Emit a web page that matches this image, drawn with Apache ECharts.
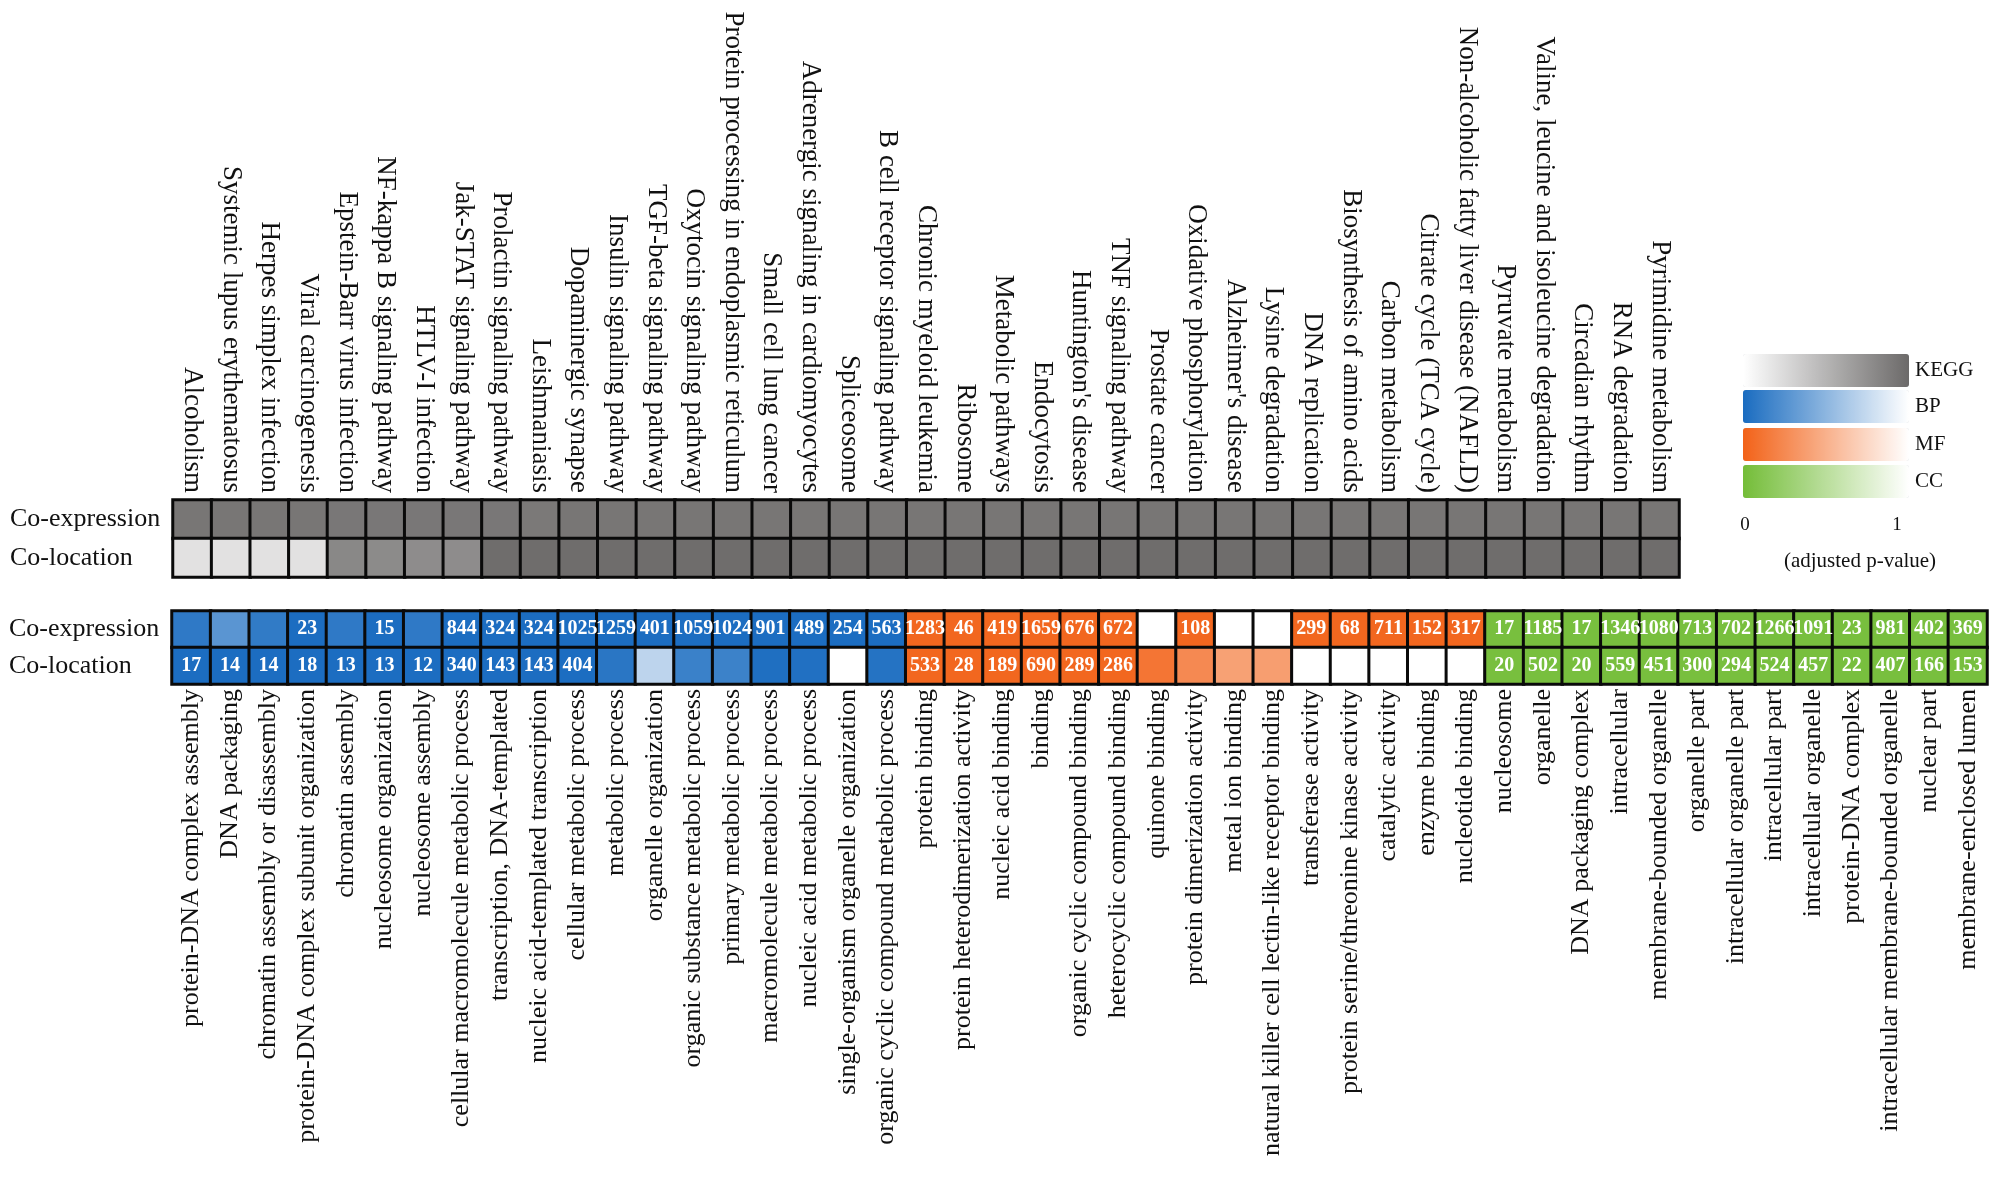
<!DOCTYPE html>
<html>
<head>
<meta charset="utf-8">
<script src="https://cdn.jsdelivr.net/npm/echarts@6/dist/echarts.min.js"></script>
<style>
  html, body { margin: 0; padding: 0; background: #fff; }
  #chart { width: 2000px; height: 1185px; }
</style>
</head>
<body>
<div id="chart"></div>
<script>
// 行名
var rows = ['Co-expression', 'Co-location'];

// KEGG 通路
var keggTerms = ['Alcoholism', 'Systemic lupus erythematosus', 'Herpes simplex infection', 'Viral carcinogenesis',
  'Epstein-Barr virus infection', 'NF-kappa B signaling pathway', 'HTLV-I infection', 'Jak-STAT signaling pathway',
  'Prolactin signaling pathway', 'Leishmaniasis', 'Dopaminergic synapse', 'Insulin signaling pathway',
  'TGF-beta signaling pathway', 'Oxytocin signaling pathway', 'Protein processing in endoplasmic reticulum',
  'Small cell lung cancer', 'Adrenergic signaling in cardiomyocytes', 'Spliceosome', 'B cell receptor signaling pathway',
  'Chronic myeloid leukemia', 'Ribosome', 'Metabolic pathways', 'Endocytosis', "Huntington's disease",
  'TNF signaling pathway', 'Prostate cancer', 'Oxidative phosphorylation', "Alzheimer's disease", 'Lysine degradation',
  'DNA replication', 'Biosynthesis of amino acids', 'Carbon metabolism', 'Citrate cycle (TCA cycle)',
  'Non-alcoholic fatty liver disease (NAFLD)', 'Pyruvate metabolism', 'Valine, leucine and isoleucine degradation',
  'Circadian rhythm', 'RNA degradation', 'Pyrimidine metabolism'];
var keggCoexpP = [0.92, 0.92, 0.92, 0.92, 0.91, 0.91, 0.91, 0.91, 0.91, 0.9, 0.92, 0.92, 0.92, 0.92, 0.92, 0.92, 0.92, 0.92, 0.92, 0.92,
  0.92, 0.92, 0.92, 0.92, 0.92, 0.92, 0.92, 0.92, 0.92, 0.92, 0.92, 0.92, 0.92, 0.92, 0.92, 0.92, 0.92, 0.92, 0.92];
var keggColocP = [0.2, 0.2, 0.2, 0.2, 0.8, 0.78, 0.77, 0.77, 0.98, 0.98, 0.98, 0.98, 0.98, 0.98, 0.98, 0.98, 0.98, 0.98, 0.98, 0.98,
  0.98, 0.98, 0.98, 0.98, 0.98, 0.98, 0.98, 0.98, 0.98, 0.98, 0.98, 0.98, 0.98, 0.98, 0.98, 0.98, 0.98, 0.98, 0.98];

// GO: BP
var bpTerms = ['protein-DNA complex assembly', 'DNA packaging', 'chromatin assembly or disassembly',
  'protein-DNA complex subunit organization', 'chromatin assembly', 'nucleosome organization', 'nucleosome assembly',
  'cellular macromolecule metabolic process', 'transcription, DNA-templated', 'nucleic acid-templated transcription',
  'cellular metabolic process', 'metabolic process', 'organelle organization', 'organic substance metabolic process',
  'primary metabolic process', 'macromolecule metabolic process', 'nucleic acid metabolic process',
  'single-organism organelle organization', 'organic cyclic compound metabolic process'];
var bpCoexpP = [0.09, 0.28, 0.1, 0.01, 0.09, 0.01, 0.09, 0.01, 0.01, 0.01, 0.01, 0.01, 0.01, 0.01, 0.01, 0.01, 0.01, 0.01, 0.01];
var bpCoexpN = [null, null, null, 23, null, 15, null, 844, 324, 324, 1025, 1259, 401, 1059, 1024, 901, 489, 254, 563];
var bpColocP = [0.01, 0.01, 0.01, 0.01, 0.01, 0.01, 0.01, 0.01, 0.01, 0.01, 0.01, 0.07, 0.71, 0.14, 0.15, 0.02, 0.03, 1, 0.05];
var bpColocN = [17, 14, 14, 18, 13, 13, 12, 340, 143, 143, 404, null, null, null, null, null, null, null, null];

// GO: MF
var mfTerms = ['protein binding', 'protein heterodimerization activity', 'nucleic acid binding', 'binding',
  'organic cyclic compound binding', 'heterocyclic compound binding', 'quinone binding', 'protein dimerization activity',
  'metal ion binding', 'natural killer cell lectin-like receptor binding', 'transferase activity',
  'protein serine/threonine kinase activity', 'catalytic activity', 'enzyme binding', 'nucleotide binding'];
var mfCoexpP = [0.03, 0.03, 0.03, 0.03, 0.03, 0.03, 1, 0.03, 1, 1, 0.03, 0.03, 0.03, 0.03, 0.03];
var mfCoexpN = [1283, 46, 419, 1659, 676, 672, null, 108, null, null, 299, 68, 711, 152, 317];
var mfColocP = [0.03, 0.03, 0.03, 0.03, 0.03, 0.03, 0.12, 0.25, 0.4, 0.38, 1, 1, 1, 1, 1];
var mfColocN = [533, 28, 189, 690, 289, 286, null, null, null, null, null, null, null, null, null];

// GO: CC
var ccTerms = ['nucleosome', 'organelle', 'DNA packaging complex', 'intracellular', 'membrane-bounded organelle',
  'organelle part', 'intracellular organelle part', 'intracellular part', 'intracellular organelle', 'protein-DNA complex',
  'intracellular membrane-bounded organelle', 'nuclear part', 'membrane-enclosed lumen'];
var ccCoexpP = [0.03, 0.03, 0.03, 0.03, 0.03, 0.03, 0.03, 0.03, 0.03, 0.03, 0.03, 0.03, 0.03];
var ccCoexpN = [17, 1185, 17, 1346, 1080, 713, 702, 1266, 1091, 23, 981, 402, 369];
var ccColocP = [0.03, 0.03, 0.03, 0.03, 0.03, 0.03, 0.03, 0.03, 0.03, 0.03, 0.03, 0.03, 0.03];
var ccColocN = [20, 502, 20, 559, 451, 300, 294, 524, 457, 22, 407, 166, 153];

var FONT = '"Liberation Serif", "DejaVu Serif", serif';
var goTerms = bpTerms.concat(mfTerms, ccTerms);

// 把两行数据拼成热图数据 [x, y, p, n]
function cells(offset, p1, n1, p2, n2) {
  var out = [];
  p1.forEach(function (v, i) {
    out.push([offset + i, 0, v, n1 ? n1[i] : null]);
  });
  p2.forEach(function (v, i) {
    out.push([offset + i, 1, v, n2 ? n2[i] : null]);
  });
  return out;
}

function heat(gridIdx, data) {
  return {
    type: 'heatmap',
    xAxisIndex: gridIdx,
    yAxisIndex: gridIdx,
    data: data,
    itemStyle: { borderColor: '#0a0a0a', borderWidth: 3 },
    emphasis: { disabled: true },
    label: {
      show: true,
      color: '#fff',
      fontFamily: FONT,
      fontWeight: 'bold',
      fontSize: 20,
      formatter: function (p) { return p.data[3] == null ? '' : String(p.data[3]); }
    }
  };
}

function legendBar(idx, name, top, colors) {
  return {
    type: 'continuous',
    seriesIndex: idx,
    dimension: 2,
    min: 0,
    max: 1,
    orient: 'horizontal',
    left: 1743,
    top: top,
    padding: 0,
    itemWidth: 33,
    itemHeight: 166,
    calculable: false,
    hoverLink: false,
    text: [name],
    textGap: 6,
    textStyle: { fontFamily: FONT, fontSize: 21, color: '#111' },
    inRange: { color: colors }
  };
}

var yAxisBase = {
  type: 'category',
  data: rows,
  inverse: true,
  axisLine: { show: false },
  axisTick: { show: false },
  splitLine: { show: false },
  axisLabel: { align: 'left', margin: 163, fontFamily: FONT, fontSize: 26, color: '#111' }
};

var chart = echarts.init(document.getElementById('chart'));
var option = {
  backgroundColor: '#fff',
  animation: false,
  grid: [
    { left: 173, top: 500, width: 1506, height: 77 },
    { left: 172, top: 611, width: 1815, height: 73 }
  ],
  xAxis: [
    {
      type: 'category', gridIndex: 0, position: 'top', data: keggTerms,
      axisLine: { show: false }, axisTick: { show: false }, splitLine: { show: false },
      axisLabel: { interval: 0, rotate: 90, margin: 7, fontFamily: FONT, fontSize: 27, color: '#111' }
    },
    {
      type: 'category', gridIndex: 1, position: 'bottom', data: goTerms,
      axisLine: { show: false }, axisTick: { show: false }, splitLine: { show: false },
      axisLabel: { interval: 0, rotate: 90, margin: 5, fontFamily: FONT, fontSize: 26, color: '#111' }
    }
  ],
  yAxis: [
    Object.assign({ gridIndex: 0 }, yAxisBase),
    Object.assign({ gridIndex: 1 }, yAxisBase)
  ],
  visualMap: [
    legendBar(0, 'KEGG', 354, ['#ffffff', '#6c6a69']),
    legendBar(1, 'BP', 390, ['#1a6cc0', '#ffffff']),
    legendBar(2, 'MF', 428, ['#f26218', '#ffffff']),
    legendBar(3, 'CC', 465, ['#74bd38', '#ffffff'])
  ],
  graphic: [
    { type: 'text', x: 1745, y: 525, style: { text: '0', font: '19px ' + FONT, fill: '#111', textAlign: 'center', textVerticalAlign: 'middle' } },
    { type: 'text', x: 1897, y: 525, style: { text: '1', font: '19px ' + FONT, fill: '#111', textAlign: 'center', textVerticalAlign: 'middle' } },
    { type: 'text', x: 1860, y: 561, style: { text: '(adjusted p-value)', font: '21px ' + FONT, fill: '#111', textAlign: 'center', textVerticalAlign: 'middle' } }
  ],
  series: [
    heat(0, cells(0, keggCoexpP, null, keggColocP, null)),
    heat(1, cells(0, bpCoexpP, bpCoexpN, bpColocP, bpColocN)),
    heat(1, cells(bpTerms.length, mfCoexpP, mfCoexpN, mfColocP, mfColocN)),
    heat(1, cells(bpTerms.length + mfTerms.length, ccCoexpP, ccCoexpN, ccColocP, ccColocN))
  ]
};
chart.setOption(option);
</script>
</body>
</html>
